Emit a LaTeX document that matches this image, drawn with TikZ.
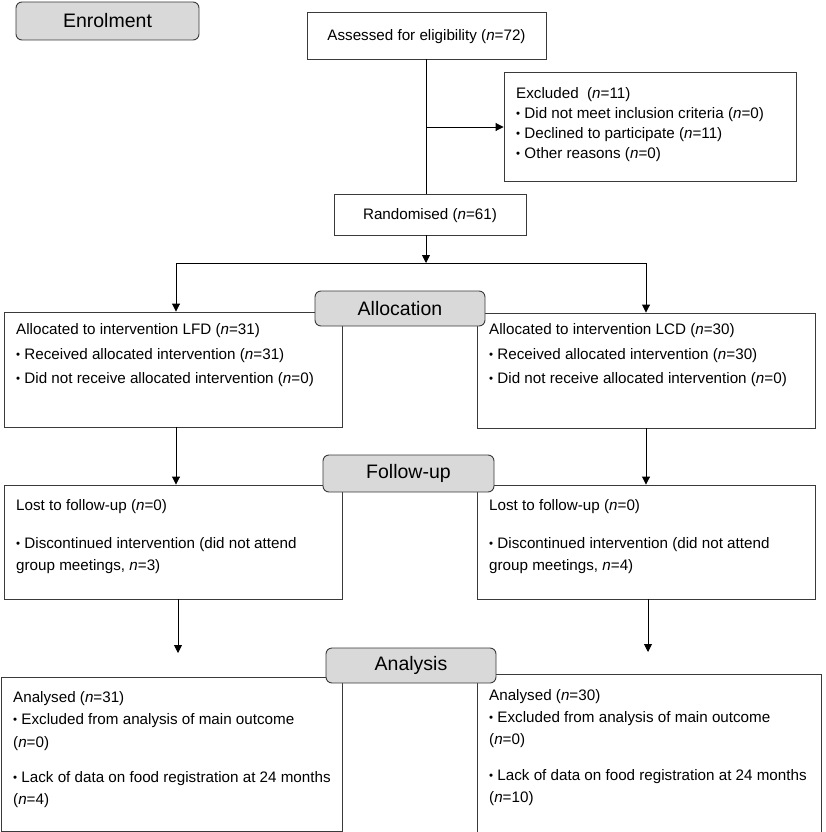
\documentclass[tikz,border=0pt]{standalone}
\usepackage{fontspec}
\setmainfont{Liberation Sans}
\usetikzlibrary{arrows.meta}
\definecolor{lab}{HTML}{D9D9D9}
\definecolor{bord}{HTML}{3A3A3A}
\newcommand{\bul}{\raisebox{1.2pt}{\fontsize{11.5}{11.5}\selectfont\textbullet}\ }
\newcommand{\nn}{\textit{n}}
\newcommand{\stg}[1]{\raisebox{-1.8pt}{#1}}
\tikzset{
  box/.style={draw=bord, line width=0.9pt, fill=white, inner sep=0pt},
  stagebox/.style={draw=bord, line width=0.9pt, fill=lab, rounded corners=6pt, inner sep=0pt, font=\fontsize{19.5}{22}\selectfont},
  txt/.style={anchor=west, inner sep=0pt, yshift=-1.5pt, font=\fontsize{15.2}{18}\selectfont},
  conn/.style={draw=black, line width=0.9pt},
  arr/.style={conn, -{Triangle[length=8pt,width=8pt]}}
}
\begin{document}
\begin{tikzpicture}[x=1pt,y=-1pt]
\useasboundingbox (0,0) rectangle (825,832);
% stage labels
\node[stagebox, minimum width=183, minimum height=38] (enrol) at (107.5,21) {\stg{Enrolment}};
% boxes
\node[box, minimum width=239, minimum height=47] (assess) at (426.5,35.5) {};
\node[box, minimum width=292, minimum height=109] (excl) at (650,126.5) {};
\node[box, minimum width=192, minimum height=41] (rand) at (430,214.5) {};
\node[box, minimum width=338, minimum height=115] (lfd) at (173,369.5) {};
\node[box, minimum width=338, minimum height=115] (lcd) at (646,370.5) {};
\node[box, minimum width=338, minimum height=114] (fl) at (173,542) {};
\node[box, minimum width=338, minimum height=114] (fr) at (646,542) {};
\node[box, minimum width=341, minimum height=154] (al) at (171.5,754) {};
\node[box, minimum width=344, minimum height=158] (ar) at (649,753) {};
\node[stagebox, minimum width=170, minimum height=35] (alloc) at (400,308.5) {\stg{Allocation}};
\node[stagebox, minimum width=171, minimum height=37] (follow) at (408.5,473.5) {\stg{Follow-up}};
\node[stagebox, minimum width=170, minimum height=35] (analysis) at (411,665.5) {\stg{Analysis}};
% texts
\node[txt, anchor=center] (tassess) at (426.5,35.5) {Assessed for eligibility (\nn=72)};
\node[txt] (te1) at (516,93) {Excluded\ \ (\nn=11)};
\node[txt] (te2) at (516,113) {\bul Did not meet inclusion criteria (\nn=0)};
\node[txt] (te3) at (516,133) {\bul Declined to participate (\nn=11)};
\node[txt] (te4) at (516,153) {\bul Other reasons (\nn=0)};
\node[txt, anchor=center] (trand) at (430,214.5) {Randomised (\nn=61)};
\node[txt] (tl1) at (16,329) {Allocated to intervention LFD (\nn=31)};
\node[txt] (tl2) at (16,354) {\bul Received allocated intervention (\nn=31)};
\node[txt] (tl3) at (16,378) {\bul Did not receive allocated intervention (\nn=0)};
\node[txt] (tr1) at (489,329) {Allocated to intervention LCD (\nn=30)};
\node[txt] (tr2) at (489,354) {\bul Received allocated intervention (\nn=30)};
\node[txt] (tr3) at (489,378) {\bul Did not receive allocated intervention (\nn=0)};
\node[txt] (tf1) at (16,505) {Lost to follow-up (\nn=0)};
\node[txt] (tf2) at (16,543) {\bul Discontinued intervention (did not attend};
\node[txt] (tf3) at (16,565) {group meetings, \nn=3)};
\node[txt] (tg1) at (489,505) {Lost to follow-up (\nn=0)};
\node[txt] (tg2) at (489,543) {\bul Discontinued intervention (did not attend};
\node[txt] (tg3) at (489,565) {group meetings, \nn=4)};
\node[txt] (ta1) at (13,697) {Analysed (\nn=31)};
\node[txt] (ta2) at (13,719) {\bul Excluded from analysis of main outcome};
\node[txt] (ta3) at (13,742) {(\nn=0)};
\node[txt] (ta4) at (13,777) {\bul Lack of data on food registration at 24 months};
\node[txt] (ta5) at (13,799) {(\nn=4)};
\node[txt] (tb1) at (489,695) {Analysed (\nn=30)};
\node[txt] (tb2) at (489,717) {\bul Excluded from analysis of main outcome};
\node[txt] (tb3) at (489,739) {(\nn=0)};
\node[txt] (tb4) at (489,775) {\bul Lack of data on food registration at 24 months};
\node[txt] (tb5) at (489,797) {(\nn=10)};
% coordinates
\coordinate (split) at (426,263);
\coordinate (sl) at (176,263);
\coordinate (sr) at (646,263);
\coordinate (br) at (426,127);
\coordinate (el) at (178,653);
\coordinate (er) at (648,652);
% connectors
\draw[conn] (assess.south -| br) -- (rand.north -| br);
\draw[arr] (br) -- (excl.west |- br);
\draw[arr] (rand.south -| split) -- (split);
\draw[conn] (sl) -- (sr);
\draw[arr] (sl) -- (lfd.north -| sl);
\draw[arr] (sr) -- (lcd.north -| sr);
\draw[arr] (lfd.south -| sl) -- (fl.north -| sl);
\draw[arr] (lcd.south -| sr) -- (fr.north -| sr);
\draw[arr] (fl.south -| el) -- (el);
\draw[arr] (fr.south -| er) -- (er);
\end{tikzpicture}
\end{document}
